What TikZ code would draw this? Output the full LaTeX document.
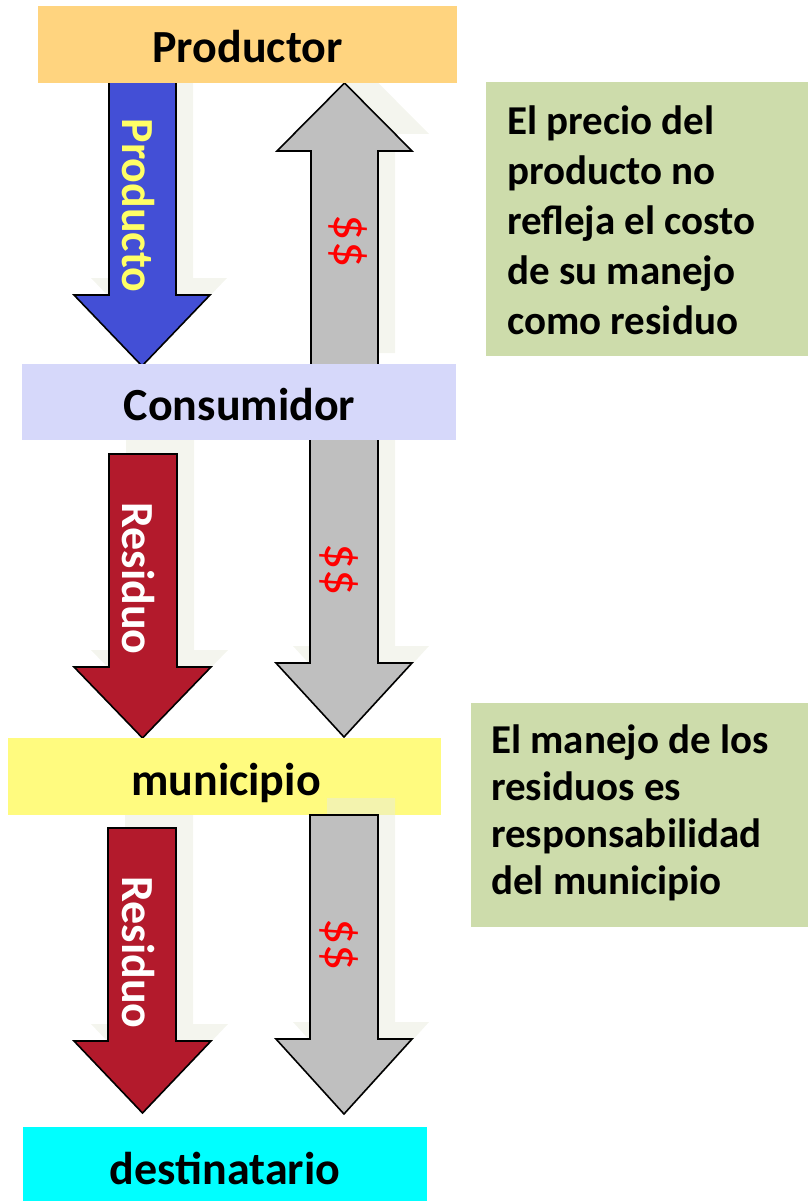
\documentclass[tikz,border=0pt]{standalone}
\usepackage{fontspec}
\setmainfont{Carlito}
\definecolor{cOrange}{HTML}{FFD47F}
\definecolor{cLav}{HTML}{D6D8FA}
\definecolor{cYel}{HTML}{FFFB7F}
\definecolor{cCyan}{HTML}{00FFFF}
\definecolor{cGreen}{HTML}{CDDCAB}
\definecolor{cBlue}{HTML}{434FD6}
\definecolor{cRed}{HTML}{B31A2C}
\definecolor{cGray}{HTML}{BFBFBF}
\definecolor{cShadow}{HTML}{E9ECDD}
\definecolor{cLabelY}{HTML}{FFFF66}
\newcommand{\blockarrow}[8]{%
  \path[#1] (#2,#4) -- (#3,#4) -- (#3,#5) -- (#7,#5) -- ({(#6+#7)/2},#8) -- (#6,#5) -- (#2,#5) -- cycle;}
\tikzset{
  shadowfill/.style={fill=cShadow, fill opacity=0.5, shift={(17,-17)}},
  arrowline/.style={draw=black, line width=1.6pt, line join=miter},
  boxtext/.style={font=\fontsize{46}{55}\selectfont\bfseries, text=black, inner sep=0pt, anchor=base},
  notetext/.style={font=\fontsize{41}{50}\selectfont\bfseries, text=black, inner sep=0pt, align=left, anchor=base west},
  arrowlabel/.style={font=\fontsize{46}{55}\selectfont\bfseries, inner sep=0pt, rotate=-90},
  moneylabel/.style={font=\fontsize{52}{60}\selectfont, text=red, inner sep=0pt, rotate=-90}
}
\begin{document}
\begin{tikzpicture}[x=1pt, y=-1pt]
\useasboundingbox (0,0) rectangle (808,1201);
% shadows (behind boxes)
\blockarrow{shadowfill}{109}{176}{83}{295}{74}{210}{366}
\blockarrow{shadowfill}{311}{378}{370}{151}{277}{412}{83}
\blockarrow{shadowfill}{109}{177}{454}{667}{74}{211}{738}
\blockarrow{shadowfill}{310}{378}{435}{663}{276}{412}{737}
\blockarrow{shadowfill}{108}{176}{828}{1041}{74}{211}{1113}
% arrows
\blockarrow{arrowline, fill=cBlue}{109}{176}{75}{295}{74}{210}{366}
\blockarrow{arrowline, fill=cGray}{311}{378}{372}{151}{277}{412}{83}
\blockarrow{arrowline, fill=cRed}{109}{177}{454}{667}{74}{211}{738}
\blockarrow{arrowline, fill=cGray}{310}{378}{430}{663}{276}{412}{737}
\blockarrow{arrowline, fill=cRed}{108}{176}{828}{1041}{74}{211}{1113}
% boxes
\path[fill=cOrange] (38,6) rectangle (457,83);
\path[fill=cLav] (22,364) rectangle (456,440);
\path[fill=cYel] (8,738) rectangle (441,815);
\path[fill=cCyan] (23,1127) rectangle (427,1201);
\path[fill=cGreen] (486,82) rectangle (808,356);
\path[fill=cGreen] (471,703) rectangle (808,927);
% last shadow and arrow
\blockarrow{shadowfill}{310}{378}{815}{1039}{276}{412}{1114}
\blockarrow{arrowline, fill=cGray}{310}{378}{815}{1039}{276}{412}{1114}
% box texts
\node[boxtext] (productor) at (247.5,63) {Productor};
\node[boxtext] (consumidor) at (239.5,420) {Consumidor};
\node[boxtext] (municipio) at (226,795) {municipio};
\node[boxtext] (destinatario) at (225,1184) {destinatario};
% arrow labels
\node[arrowlabel, text=cLabelY] (lprod) at (138.5,205.5) {Producto};
\node[arrowlabel, text=white] (lres1) at (138.5,578.5) {Residuo};
\node[arrowlabel, text=white] (lres2) at (138,952.5) {Residuo};
\node[moneylabel] (m1) at (348,241) {\$\$};
\node[moneylabel] (m2) at (339.5,569.5) {\$\$};
\node[moneylabel] (m3) at (339.5,944.5) {\$\$};
% notes (base anchor = last line)
\node[notetext] (note1) at (507,334) {El precio del\\producto no\\refleja el costo\\de su manejo\\como residuo};
\node[notetext, font=\fontsize{41}{47}\selectfont\bfseries] (note2) at (491,894) {El manejo de los\\residuos es\\responsabilidad\\del municipio};
\end{tikzpicture}
\end{document}
